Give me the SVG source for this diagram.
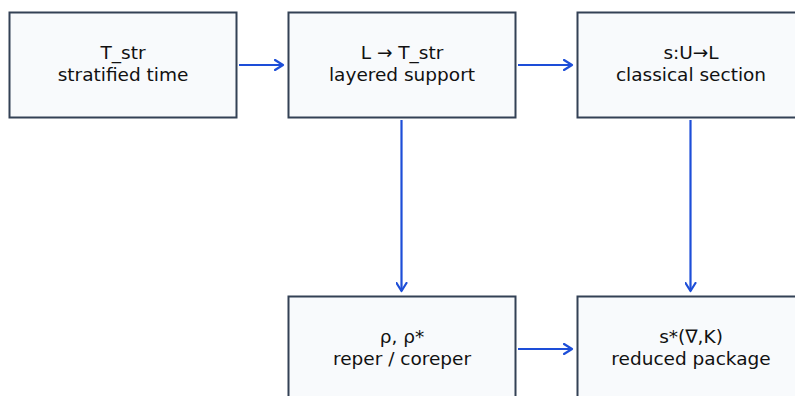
<svg xmlns="http://www.w3.org/2000/svg" width="795" height="396" viewBox="0 0 795 396">
<style>
.box{fill:#f8fafc;stroke:#334155;stroke-width:2}
.t{font-family:"DejaVu Sans",sans-serif;font-size:18.5px;fill:#111111;text-anchor:middle}
.c{stroke:#1d4ed8;stroke-width:2.2;fill:none;marker-end:url(#ah)}
</style>
<defs>
<marker id="ah" markerWidth="12" markerHeight="12" refX="9" refY="6" orient="auto" markerUnits="userSpaceOnUse">
<path d="M1,1 L9,6 L1,11" fill="none" stroke="#1d4ed8" stroke-width="2.2" stroke-linecap="round" stroke-linejoin="round"/>
</marker>
</defs>
<rect width="795" height="396" fill="#ffffff"/>
<g id="connectors">
<line class="c" x1="239" y1="65" x2="283" y2="65"/>
<line class="c" x1="518" y1="65" x2="572" y2="65"/>
<line class="c" x1="401.5" y1="120" x2="401.5" y2="291"/>
<line class="c" x1="690.5" y1="120" x2="690.5" y2="291"/>
<line class="c" x1="518" y1="349" x2="572" y2="349"/>
</g>
<g id="n1">
<rect class="box" x="9.5" y="12.5" width="227" height="105"/>
<text class="t" x="123" y="59">T_str</text>
<text class="t" x="123" y="81">stratified time</text>
</g>
<g id="n2">
<rect class="box" x="288.5" y="12.5" width="227" height="105"/>
<text class="t" x="402" y="59">L → T_str</text>
<text class="t" x="402" y="81">layered support</text>
</g>
<g id="n3">
<rect class="box" x="577.5" y="12.5" width="227" height="105"/>
<text class="t" x="691" y="59">s:U→L</text>
<text class="t" x="691" y="81">classical section</text>
</g>
<g id="n4">
<rect class="box" x="288.5" y="296.5" width="227" height="105"/>
<text class="t" x="402" y="343">ρ, ρ*</text>
<text class="t" x="402" y="365">reper / coreper</text>
</g>
<g id="n5">
<rect class="box" x="577.5" y="296.5" width="227" height="105"/>
<text class="t" x="691" y="343">s*(∇,K)</text>
<text class="t" x="691" y="365">reduced package</text>
</g>
</svg>
